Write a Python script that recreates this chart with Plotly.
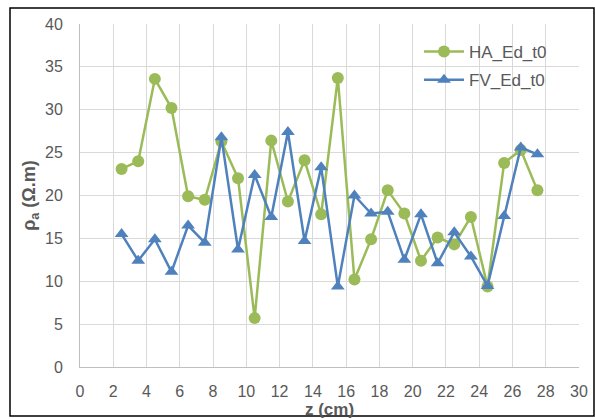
import plotly.graph_objects as go

z_cm = [2.5, 3.5, 4.5, 5.5, 6.5, 7.5, 8.5, 9.5, 10.5, 11.5, 12.5, 13.5, 14.5,
        15.5, 16.5, 17.5, 18.5, 19.5, 20.5, 21.5, 22.5, 23.5, 24.5, 25.5, 26.5, 27.5]
ha_ed_t0 = [23.1, 24.0, 33.6, 30.2, 19.9, 19.5, 26.3, 22.0, 5.7, 26.4, 19.3, 24.1, 17.8,
            33.7, 10.2, 14.9, 20.6, 17.9, 12.4, 15.1, 14.3, 17.5, 9.4, 23.8, 25.3, 20.6]
fv_ed_t0 = [15.5, 12.4, 14.9, 11.1, 16.5, 14.5, 26.8, 13.7, 22.4, 17.5, 27.4, 14.7, 23.3,
            9.4, 20.0, 17.9, 18.1, 12.5, 17.8, 12.1, 15.7, 12.9, 9.45, 17.6, 25.6, 24.8]

green = "#9BBB59"
blue = "#4F81BD"
grey = "#595959"

fig = go.Figure()
fig.add_trace(go.Scatter(x=z_cm, y=ha_ed_t0, name="HA_Ed_t0", mode="lines+markers",
                         legendgroup="a",
                         line=dict(color=green, width=2.5),
                         marker=dict(symbol="circle", size=12, color=green)))
fig.add_trace(go.Scatter(x=z_cm, y=fv_ed_t0, name="FV_Ed_t0", mode="lines+markers",
                         legendgroup="b",
                         line=dict(color=blue, width=2.5),
                         marker=dict(symbol="triangle-up", size=12, color=blue)))

L, R, T, B = 80, 16, 24, 52
W, H = 595, 419
pw, ph = W - L - R, H - T - B


def px(x):
    return (x - L) / pw


def py(y):
    return 1 - (y - T) / ph


fig.update_layout(
    width=W, height=H,
    margin=dict(l=L, r=R, t=T, b=B),
    paper_bgcolor="white", plot_bgcolor="white",
    font=dict(family="Liberation Sans, Arial", size=16, color=grey),
    showlegend=True,
    legend=dict(x=px(419), y=py(34), xanchor="left", yanchor="top",
                bgcolor="rgba(0,0,0,0)", font=dict(size=17, color=grey),
                itemwidth=40, tracegroupgap=3),
    xaxis=dict(range=[0, 30], dtick=2, tick0=0, showgrid=True, gridcolor="#D9D9D9",
               gridwidth=1, showline=True, linecolor="#BFBFBF", linewidth=1,
               zeroline=False, ticks="", ticklabelstandoff=10, automargin=False,
               title=dict(text="<b>z (cm)</b>", font=dict(size=17, color=grey), standoff=0)),
    yaxis=dict(range=[0, 40], dtick=5, tick0=0, showgrid=True, gridcolor="#D9D9D9",
               gridwidth=1, showline=True, linecolor="#BFBFBF", linewidth=1,
               zeroline=False, ticks="", ticklabelstandoff=13, automargin=False,
               title=dict(text="<b>ρ<sub>a</sub> (Ω.m)</b>", font=dict(size=18, color=grey), standoff=4)),
    shapes=[
        dict(type="rect", xref="paper", yref="paper",
             x0=px(10), x1=px(594), y0=py(416), y1=py(8),
             line=dict(color="black", width=1.5), layer="below"),
        dict(type="rect", xref="paper", yref="paper",
             x0=px(397), x1=px(567), y0=py(93), y1=py(33),
             line=dict(width=0), fillcolor="white", layer="between"),
    ],
)

fig.write_html("out.html")
